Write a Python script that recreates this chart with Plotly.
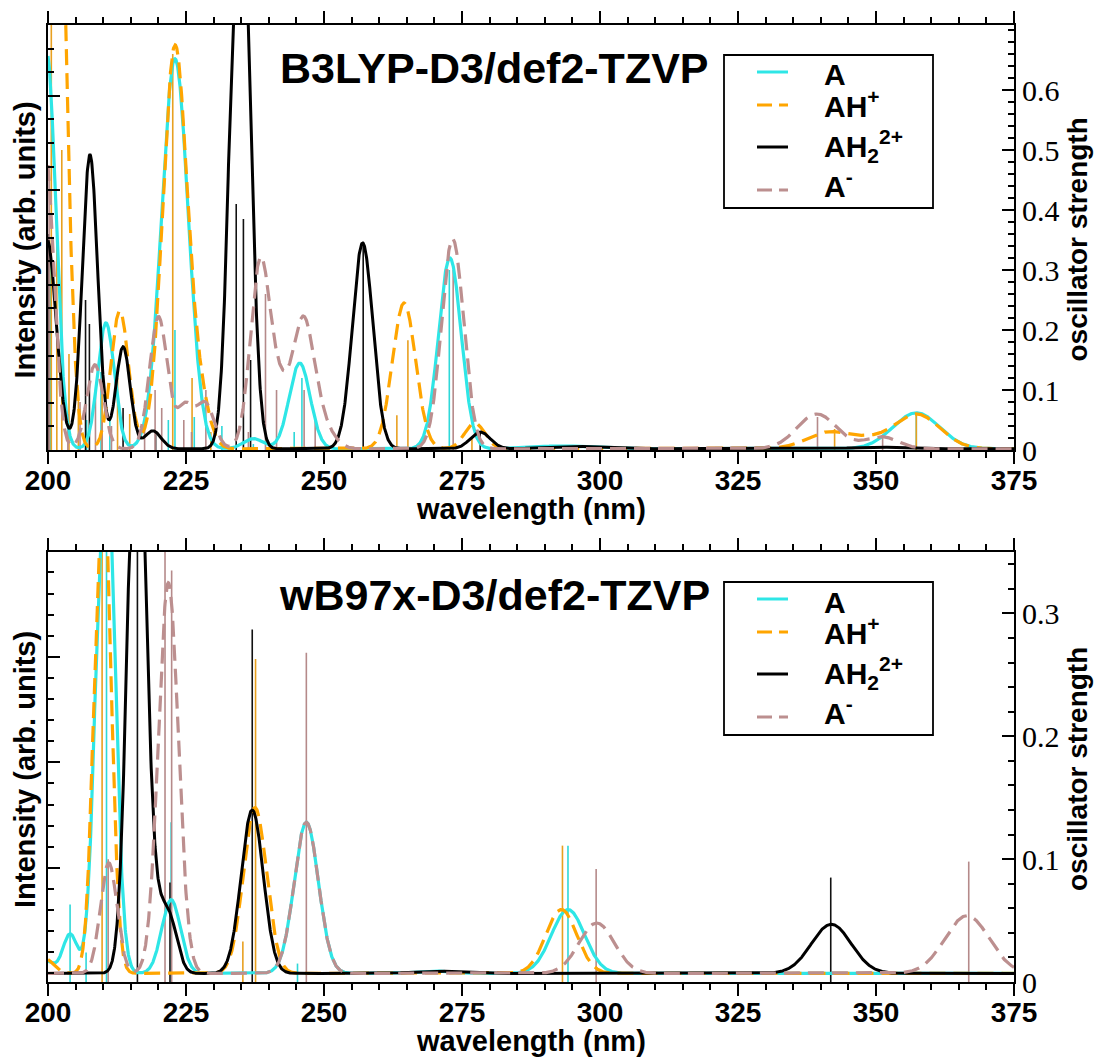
import numpy as np
import plotly.graph_objects as go

W, H = 1094, 1057

# ---------------- data ----------------
# Top panel (B3LYP-D3/def2-TZVP); curves given as peaks: centre (nm), height, width (nm)
t_A_c = [199.8, 210.5, 223.0, 237.2, 245.6, 272.8, 293.0, 357.3]
t_A_h = [0.66, 0.21, 0.65, 0.017, 0.143, 0.318, 0.005, 0.060]
t_A_w = [1.6, 1.5, 2.4, 1.8, 1.9, 2.05, 5.0, 4.2]

t_AH_c = [200.5, 202.0, 213.0, 223.0, 227.5, 264.5, 277.3, 341.5, 348.5, 357.3]
t_AH_h = [0.90, 0.80, 0.23, 0.67, 0.07, 0.243, 0.043, 0.028, 0.010, 0.058]
t_AH_w = [1.3, 1.6, 1.6, 2.2, 1.8, 2.1, 1.8, 4.0, 3.0, 4.2]

t_AH2_c = [199.8, 207.6, 213.6, 219.0, 234.1, 235.6, 257.0, 278.3, 295.0, 350.0]
t_AH2_h = [0.35, 0.49, 0.17, 0.03, 0.60, 0.55, 0.343, 0.028, 0.004, 0.003]
t_AH2_w = [1.7, 1.4, 1.3, 1.5, 1.5, 1.5, 1.85, 1.8, 5.0, 4.0]

t_Am_c = [199.5, 208.5, 220.0, 224.8, 228.5, 238.5, 242.0, 246.2, 250.0, 273.3, 339.3, 351.0]
t_Am_h = [0.50, 0.14, 0.22, 0.07, 0.075, 0.315, 0.07, 0.215, 0.03, 0.35, 0.058, 0.02]
t_Am_w = [1.5, 1.5, 1.6, 1.5, 1.6, 1.8, 1.5, 2.0, 2.0, 2.0, 3.6, 3.0]

# Top panel oscillator strengths (sticks)
t_A_sx = [200.4, 207.0, 209.6, 211.2, 221.8, 223.0, 226.5, 231.5, 237.2, 244.6, 246.0, 272.7, 357.3]
t_A_sf = [0.33, 0.05, 0.13, 0.05, 0.05, 0.20, 0.055, 0.04, 0.01, 0.03, 0.12, 0.30, 0.06]
t_AH_sx = [200.6, 201.6, 202.5, 203.8, 205.5, 209.8, 212.6, 214.8, 222.6, 226.1, 229.5, 263.2, 265.2, 276.8, 342.5, 357.3]
t_AH_sf = [0.72, 0.35, 0.50, 0.16, 0.10, 0.10, 0.12, 0.06, 0.66, 0.12, 0.03, 0.058, 0.183, 0.022, 0.035, 0.06]
t_AH2_sx = [200.1, 206.8, 207.5, 213.6, 219.5, 234.1, 235.4, 236.7, 257.1, 278.3]
t_AH2_sf = [0.36, 0.25, 0.21, 0.07, 0.03, 0.41, 0.385, 0.15, 0.34, 0.03]
t_Am_sx = [200.2, 203.6, 205.8, 208.6, 209.8, 211.5, 217.5, 219.4, 220.6, 224.6, 226.0, 228.6, 236.3, 239.4, 241.4, 246.4, 248.4, 273.4, 339.4, 351.2]
t_Am_sf = [0.45, 0.06, 0.08, 0.10, 0.05, 0.04, 0.05, 0.10, 0.07, 0.05, 0.03, 0.10, 0.03, 0.26, 0.10, 0.10, 0.05, 0.30, 0.055, 0.025]

# Bottom panel (wB97x-D3/def2-TZVP)
b_A_c = [199.5, 204.0, 210.4, 222.3, 246.8, 270.0, 294.2]
b_A_h = [0.010, 0.032, 0.45, 0.060, 0.123, 0.002, 0.052]
b_A_w = [1.5, 1.3, 1.6, 1.7, 2.2, 3.0, 3.0]

b_AH_c = [199.5, 209.9, 237.5, 293.0]
b_AH_h = [0.012, 0.42, 0.135, 0.052]
b_AH_w = [1.5, 1.45, 2.1, 2.8]

b_AH2_c = [216.1, 219.8, 222.2, 237.0, 270.0, 341.9]
b_AH2_h = [0.50, 0.04, 0.035, 0.133, 0.002, 0.040]
b_AH2_w = [1.6, 1.6, 1.4, 2.0, 4.0, 3.6]

b_Am_c = [211.0, 221.8, 246.8, 299.4, 366.5]
b_Am_h = [0.09, 0.318, 0.123, 0.041, 0.047]
b_Am_w = [1.5, 1.8, 2.2, 3.2, 4.0]

b_A_sx = [204.0, 206.9, 210.6, 222.3, 245.2, 294.2]
b_A_sf = [0.063, 0.024, 0.40, 0.13, 0.015, 0.111]
b_AH_sx = [209.8, 235.3, 237.6, 293.2]
b_AH_sf = [0.40, 0.033, 0.263, 0.111]
b_AH2_sx = [216.2, 222.1, 237.0, 341.8]
b_AH2_sf = [0.40, 0.081, 0.287, 0.085]
b_Am_sx = [210.9, 221.2, 222.4, 246.8, 299.3, 366.8]
b_Am_sf = [0.10, 0.35, 0.335, 0.268, 0.092, 0.098]

top_base = 0.002
bot_base = 0.007

x_ticks = [200, 225, 250, 275, 300, 325, 350, 375]
top_f_ticks = [0, 0.1, 0.2, 0.3, 0.4, 0.5, 0.6]
bot_f_ticks = [0, 0.1, 0.2, 0.3]
titles = ["B3LYP-D3/def2-TZVP", "wB97x-D3/def2-TZVP"]
names = ["A", "AH<sup>+</sup>", "AH<sub>2</sub><sup>2+</sup>", "A<sup>-</sup>"]

# ---------------- styles ----------------
CYAN = "#2EE6E6"
ORANGE = "#FFA500"
BLACK = "#000000"
TAUPE = "#BC8F8F"
STICK = {"A": "#2ED8D8", "AH": "#E8A020", "AH2": "#111111", "Am": "#B58A8A"}
SANS = "Liberation Sans"
SERIF = "Liberation Serif"

xg = np.linspace(200, 375, 3501)


def spectrum(c, h, w, base):
    y = np.full_like(xg, base)
    for ci, hi, wi in zip(c, h, w):
        y = y + hi * np.exp(-((xg - ci) ** 2) / (2 * wi ** 2))
    return y


def sticks(sx, sf):
    xs, ys = [], []
    for a, f in zip(sx, sf):
        xs += [a, a, None]
        ys += [0, f, None]
    return xs, ys


fig = go.Figure()

panels = [
    dict(xa="x", ya="y2", yl="y", base=top_base,
         curves=[(t_A_c, t_A_h, t_A_w), (t_AH_c, t_AH_h, t_AH_w), (t_AH2_c, t_AH2_h, t_AH2_w), (t_Am_c, t_Am_h, t_Am_w)],
         st=[(t_A_sx, t_A_sf), (t_AH_sx, t_AH_sf), (t_AH2_sx, t_AH2_sf), (t_Am_sx, t_Am_sf)]),
    dict(xa="x2", ya="y4", yl="y3", base=bot_base,
         curves=[(b_A_c, b_A_h, b_A_w), (b_AH_c, b_AH_h, b_AH_w), (b_AH2_c, b_AH2_h, b_AH2_w), (b_Am_c, b_Am_h, b_Am_w)],
         st=[(b_A_sx, b_A_sf), (b_AH_sx, b_AH_sf), (b_AH2_sx, b_AH2_sf), (b_Am_sx, b_Am_sf)]),
]
keys = ["A", "AH", "AH2", "Am"]
ccol = [CYAN, ORANGE, BLACK, TAUPE]
cdash = ["solid", "16px,8px", "solid", "16px,8px"]
cwid = [3.2, 3.2, 3, 3.2]

for p in panels:
    fig.add_trace(go.Scatter(x=[], y=[], xaxis=p["xa"], yaxis=p["yl"], showlegend=False))
    for k, (sx, sf) in zip(keys, p["st"]):
        xs, ys = sticks(sx, sf)
        fig.add_trace(go.Scatter(x=xs, y=ys, mode="lines", xaxis=p["xa"], yaxis=p["ya"],
                                 line=dict(color=STICK[k], width=1.6), showlegend=False, hoverinfo="skip"))
    for i, (c, h, w) in enumerate(p["curves"]):
        fig.add_trace(go.Scatter(x=xg, y=spectrum(c, h, w, p["base"]), mode="lines",
                                 xaxis=p["xa"], yaxis=p["ya"],
                                 line=dict(color=ccol[i], width=cwid[i], dash=cdash[i]),
                                 showlegend=False, hoverinfo="skip"))

X0, X1 = 48, 1014
TOP = (25, 450)
BOT = (552, 982)


def dom_y(t, b):
    return [1 - b / H, 1 - t / H]


xcommon = dict(range=[200, 375], tickvals=x_ticks, ticks="outside", ticklen=12, tickwidth=2,
               mirror="ticks", showline=True, linewidth=2, linecolor="black", tickcolor="black",
               showgrid=False, zeroline=False, automargin=False, ticklabelstandoff=-8,
               minor=dict(dtick=5, ticks="outside", ticklen=6, tickwidth=2, tickcolor="black", showgrid=False),
               tickfont=dict(family=SANS, size=28, color="black", weight="bold"),
               domain=[X0 / W, X1 / W])

fig.update_layout(
    width=W, height=H, margin=dict(l=0, r=0, t=0, b=0),
    paper_bgcolor="white", plot_bgcolor="white", showlegend=False,
    xaxis=dict(anchor="y", **xcommon),
    xaxis2=dict(anchor="y3", **xcommon),
    yaxis=dict(domain=dom_y(*TOP), anchor="x", range=[0, 18], tickvals=[3, 7, 11, 15], ticks="inside",
               ticklen=12, tickwidth=2, tickcolor="black", showticklabels=False, showline=True,
               linewidth=2, linecolor="black", showgrid=False, zeroline=False, automargin=False,
               minor=dict(tickvals=list(range(1, 18)), ticks="inside", ticklen=6, tickwidth=2,
                          tickcolor="black", showgrid=False)),
    yaxis2=dict(overlaying="y", side="right", anchor="x", range=[0, 425 / 600], tickvals=top_f_ticks,
                ticktext=[("%g" % v) for v in top_f_ticks], ticks="inside", ticklen=12, tickwidth=2,
                tickcolor="black", showline=True, linewidth=2, linecolor="black", showgrid=False,
                zeroline=False, automargin=False,
                minor=dict(dtick=0.02, ticks="inside", ticklen=6, tickwidth=2, tickcolor="black", showgrid=False),
                tickfont=dict(family=SERIF, size=30, color="black")),
    yaxis3=dict(domain=dom_y(*BOT), anchor="x2", range=[-0.41, 19.97], tickvals=[5, 10, 15], ticks="inside",
                ticklen=12, tickwidth=2, tickcolor="black", showticklabels=False, showline=True,
                linewidth=2, linecolor="black", showgrid=False, zeroline=False, automargin=False,
                minor=dict(tickvals=list(range(0, 20)), ticks="inside", ticklen=6, tickwidth=2,
                           tickcolor="black", showgrid=False)),
    yaxis4=dict(overlaying="y3", side="right", anchor="x2", range=[0, 0.35], tickvals=bot_f_ticks,
                ticktext=[("%g" % v) for v in bot_f_ticks], ticks="inside", ticklen=12, tickwidth=2,
                tickcolor="black", showline=True, linewidth=2, linecolor="black", showgrid=False,
                zeroline=False, automargin=False,
                minor=dict(dtick=0.02, ticks="inside", ticklen=6, tickwidth=2, tickcolor="black", showgrid=False),
                tickfont=dict(family=SERIF, size=30, color="black")),
)

ann = []
shapes = []


def P(x, y):
    return x / W, 1 - y / H


for (pt, pb), title in zip([TOP, BOT], titles):
    off = pt - TOP[0]
    # panel title
    x, y = P(494, 68 + off)
    ann.append(dict(x=x, y=y, xref="paper", yref="paper", text="<b>%s</b>" % title, showarrow=False,
                    xanchor="center", yanchor="middle", font=dict(family=SANS, size=43, color="black")))
    # axis titles
    x, y = P(531, pb + 59)
    ann.append(dict(x=x, y=y, xref="paper", yref="paper", text="<b>wavelength (nm)</b>", showarrow=False,
                    xanchor="center", yanchor="middle", font=dict(family=SANS, size=29, color="black")))
    x, y = P(25, (pt + pb) / 2 + 3)
    ann.append(dict(x=x, y=y, xref="paper", yref="paper", text="<b>Intensity (arb. units)</b>", showarrow=False,
                    textangle=-90, xanchor="center", yanchor="middle", font=dict(family=SANS, size=29, color="black")))
    x, y = P(1077, (pt + pb) / 2 + 2)
    ann.append(dict(x=x, y=y, xref="paper", yref="paper", text="<b>oscillator strength</b>", showarrow=False,
                    textangle=-90, xanchor="center", yanchor="middle", font=dict(family=SANS, size=28, color="black")))
    # legend box
    bx0, by0 = P(724, 55 + off)
    bx1, by1 = P(933, 208 + off)
    shapes.append(dict(type="rect", xref="paper", yref="paper", x0=bx0, y0=by1, x1=bx1, y1=by0,
                       line=dict(color="black", width=1.8), fillcolor="white", layer="above"))
    rows_line = [72, 105, 147, 190]
    rows_text = [75, 104, 146, 184]
    for i in range(4):
        lx0, ly = P(757, rows_line[i] + off)
        lx1, _ = P(788, rows_line[i] + off)
        shapes.append(dict(type="line", xref="paper", yref="paper", x0=lx0, x1=lx1, y0=ly, y1=ly,
                           line=dict(color=ccol[i], width=3,
                                     dash="solid" if cdash[i] == "solid" else "15px,7px"), layer="above"))
        tx, ty = P(822, rows_text[i] + off)
        ann.append(dict(x=tx, y=ty, xref="paper", yref="paper", text="<b>%s</b>" % names[i], showarrow=False,
                        xanchor="left", yanchor="middle", font=dict(family=SANS, size=30, color="black")))

fig.update_layout(annotations=ann, shapes=shapes)
fig.write_html("out.html")
